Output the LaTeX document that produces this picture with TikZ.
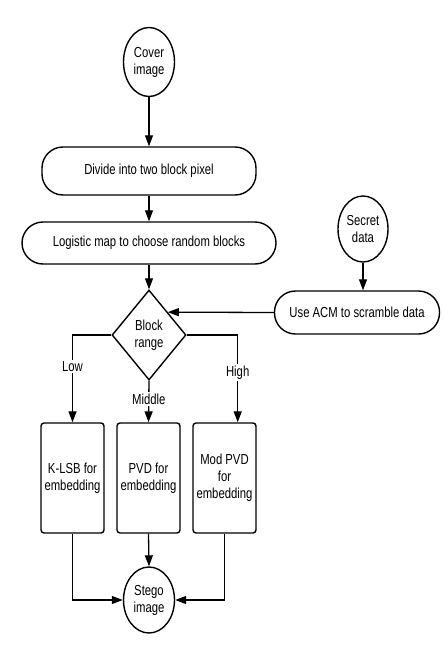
\documentclass[tikz,border=0pt]{standalone}
\usepackage{fontspec}
\setmainfont{Liberation Sans}[FakeStretch=0.78]
\usetikzlibrary{shapes.geometric,arrows.meta}
\begin{document}
\begin{tikzpicture}[x=1pt,y=-1pt,
  font=\fontsize{14.5}{17}\selectfont,
  every node/.style={line width=1.4pt, draw, align=center, inner sep=0pt},
  circ/.style={ellipse},
  pill/.style={rectangle, rounded corners=21pt},
  box/.style={rectangle, rounded corners=3pt, minimum width=63pt, minimum height=110pt},
  dec/.style={diamond, minimum width=74pt, minimum height=90pt, aspect=0.82},
  arr/.style={line width=1.3pt, -{Triangle[length=11pt,width=8pt]}},
  lbl/.style={draw=none, fill=white, inner sep=1.5pt}
]
\useasboundingbox (0,0) rectangle (444,650);
\node[circ, minimum width=51pt, minimum height=69pt] (cover) at (149,62) {Cover\\image};
\node[pill, minimum width=214pt, minimum height=48pt] (divide) at (149,171) {Divide into two block pixel};
\node[pill, minimum width=254pt, minimum height=42pt] (logistic) at (149,243) {Logistic map to choose random blocks};
\node[dec] (dia) at (149,335) {Block\\range};
\node[circ, minimum width=50pt, minimum height=66pt] (sec) at (363,229) {Secret\\data};
\node[pill, minimum width=165pt, minimum height=43pt] (acm) at (357,312.5) {Use ACM to scramble data};
\node[box] (b1) at (72.5,478) {K-LSB for\\embedding};
\node[box] (b2) at (148.5,478) {PVD for\\embedding};
\node[box] (b3) at (224.5,478) {Mod PVD\\for\\embedding};
\node[circ, minimum width=51pt, minimum height=66pt] (stego) at (149,600) {Stego\\image};
\coordinate (hin) at ([xshift=-19pt]b3.north east);

\draw[arr] (cover.south) -- (divide.north);
\draw[arr] (divide.south) -- (logistic.north);
\draw[arr] (logistic.south) -- (dia.north);
\draw[arr] (sec.south) -- (sec.south |- acm.north);
\draw[arr] (acm.west) -- (dia.north east);
\draw[arr] (dia.west) -| node[lbl, pos=0.68] {Low} (b1.north);
\draw[arr] (dia.south) -- node[lbl, pos=0.44] {Middle} (b2.north);
\draw[arr] (dia.east) -| node[lbl, pos=0.716] {High} (hin);
\draw[arr] (b1.south) |- (stego.west);
\draw[arr] (b2.south) -- (stego.north);
\draw[arr] (b3.south) |- (stego.east);
\end{tikzpicture}
\end{document}
